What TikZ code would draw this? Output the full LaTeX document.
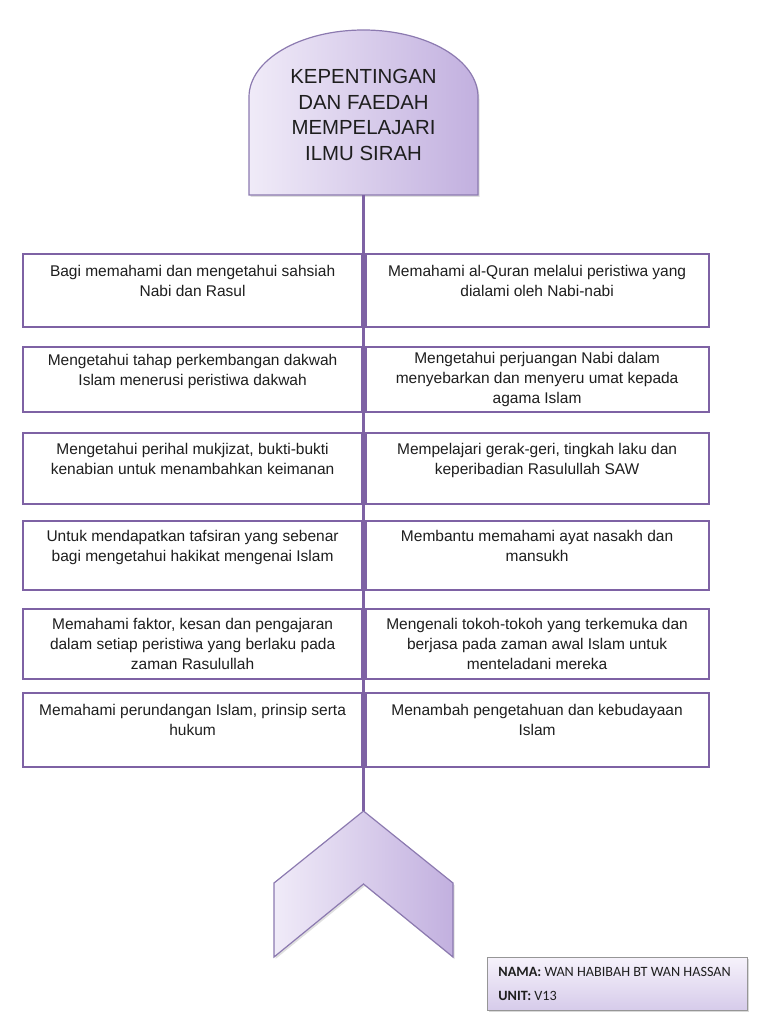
\documentclass[tikz,border=0pt]{standalone}
\usepackage{fontspec}
\setmainfont{Liberation Sans}
\newfontfamily\namefont{Carlito}
\usetikzlibrary{positioning,shadows}
\usepackage{xcolor}
\definecolor{framepurple}{RGB}{126,98,164}
\definecolor{shapeedge}{RGB}{140,122,176}
\definecolor{lilaclight}{RGB}{240,235,248}
\definecolor{lilacdark}{RGB}{194,176,223}
\definecolor{nametop}{RGB}{246,242,251}
\definecolor{namebot}{RGB}{214,203,234}
\definecolor{nameedge}{RGB}{150,150,150}
\definecolor{inkgray}{RGB}{30,30,30}
\newcommand{\bodyfont}{\fontsize{15.5}{20}\selectfont}
\newcommand{\lcolx}{22}
\newcommand{\rcolx}{364.5}
\tikzset{
    lboxsty/.style={draw=framepurple,line width=2.2pt,fill=white,rectangle,inner sep=0pt,anchor=north west,minimum width=339pt,align=center,font=\bodyfont,text=inkgray},
    rboxsty/.style={lboxsty,minimum width=343pt},
    shapesty/.style={draw=shapeedge,line width=1.2pt,left color=lilaclight,right color=lilacdark,drop shadow={opacity=0.25,shadow xshift=1.5pt,shadow yshift=-2pt}},
    titlesty/.style={align=center,font=\fontsize{20.4}{25.5}\selectfont,text=inkgray,inner sep=0pt},
    stemsty/.style={draw=framepurple,line width=2.7pt},
    namesty/.style={draw=nameedge,line width=0.8pt,top color=nametop,bottom color=namebot,rectangle,anchor=north west,minimum width=260pt,minimum height=53pt,text width=238pt,inner xsep=11pt,inner ysep=0pt,align=flush left,font=\namefont\fontsize{14.2}{24}\selectfont,text=inkgray,drop shadow={opacity=0.3,shadow xshift=1.5pt,shadow yshift=-2pt}},
}

\begin{document}
\begin{tikzpicture}[x=1pt,y=-1pt]
  \useasboundingbox (0,0) rectangle (768,1024);

  % heading dome
  \path[shapesty] (249,195) -- (249,97) arc[start angle=180,end angle=360,x radius=114.5,y radius=67] -- (478,195) -- cycle;
  \node[titlesty] (title) at (363.5,115) {KEPENTINGAN\\DAN FAEDAH\\MEMPELAJARI\\ILMU SIRAH};

  % chevron at the foot
  \path[shapesty] (363.5,811) -- (453,883) -- (453,957) -- (363.5,884) -- (274,957) -- (274,883) -- cycle;

  \coordinate (ttlbase) at (363.5,195);
  \coordinate (chevtip) at (363.5,811);
  \draw[stemsty] (ttlbase) -- (chevtip);

  % rows
  \node[lboxsty,minimum height=73pt] (L1) at (\lcolx,253) {Bagi memahami dan mengetahui sahsiah\\Nabi dan Rasul\\\mbox{}};
  \node[rboxsty,minimum height=73pt] (R1) at (\rcolx,253) {Memahami al-Quran melalui peristiwa yang\\dialami oleh Nabi-nabi\\\mbox{}};
  \node[lboxsty,minimum height=65pt] (L2) at (\lcolx,346) {Mengetahui tahap perkembangan dakwah\\Islam menerusi peristiwa dakwah\\\mbox{}};
  \node[rboxsty,minimum height=65pt] (R2) at (\rcolx,346) {Mengetahui perjuangan Nabi dalam\\menyebarkan dan menyeru umat kepada\\agama Islam};
  \node[lboxsty,minimum height=71pt] (L3) at (\lcolx,432) {Mengetahui perihal mukjizat, bukti-bukti\\kenabian untuk menambahkan keimanan\\\mbox{}};
  \node[rboxsty,minimum height=71pt] (R3) at (\rcolx,432) {Mempelajari gerak-geri, tingkah laku dan\\keperibadian Rasulullah SAW\\\mbox{}};
  \node[lboxsty,minimum height=69pt] (L4) at (\lcolx,520) {Untuk mendapatkan tafsiran yang sebenar\\bagi mengetahui hakikat mengenai Islam\\\mbox{}};
  \node[rboxsty,minimum height=69pt] (R4) at (\rcolx,520) {Membantu memahami ayat nasakh dan\\mansukh\\\mbox{}};
  \node[lboxsty,minimum height=70pt] (L5) at (\lcolx,608) {Memahami faktor, kesan dan pengajaran\\dalam setiap peristiwa yang berlaku pada\\zaman Rasulullah};
  \node[rboxsty,minimum height=70pt] (R5) at (\rcolx,608) {Mengenali tokoh-tokoh yang terkemuka dan\\berjasa pada zaman awal Islam untuk\\menteladani mereka};
  \node[lboxsty,minimum height=74pt] (L6) at (\lcolx,692) {Memahami perundangan Islam, prinsip serta\\hukum\\\mbox{}};
  \node[rboxsty,minimum height=74pt] (R6) at (\rcolx,692) {Menambah pengetahuan dan kebudayaan\\Islam\\\mbox{}};

  % name card
  \node[namesty] (nama) at (487,957) {\textbf{NAMA:} WAN HABIBAH BT WAN HASSAN\\\textbf{UNIT:} V13};
\end{tikzpicture}
\end{document}
